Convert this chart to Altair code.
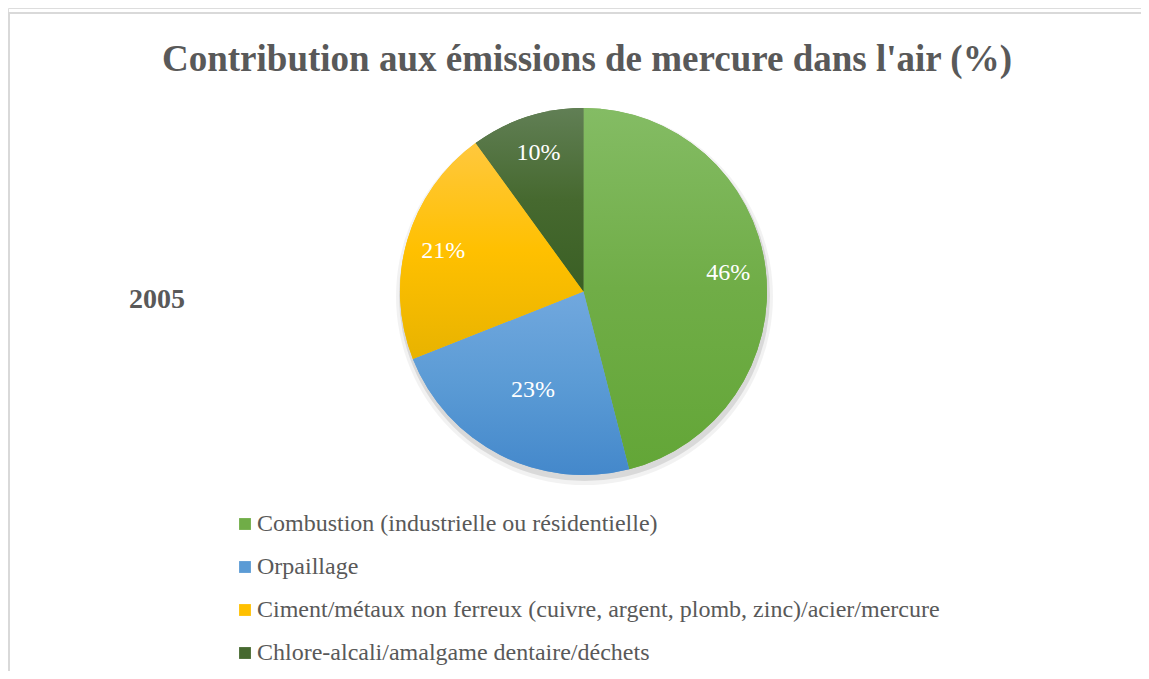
import altair as alt
import pandas as pd

categories = [
    "Combustion (industrielle ou résidentielle)",
    "Orpaillage",
    "Ciment/métaux non ferreux (cuivre, argent, plomb, zinc)/acier/mercure",
    "Chlore-alcali/amalgame dentaire/déchets",
]
values = [46, 23, 21, 10]
order = [1, 2, 3, 4]
year_label = "2005"
title_text = "Contribution aux émissions de mercure dans l'air (%)"

mid_colors = ["#70AD47", "#5B9BD5", "#FFC000", "#46692F"]
top_colors = ["#84BC64", "#71A8DE", "#FFC83E", "#617F55"]
bottom_colors = ["#63A637", "#4488CB", "#E8B300", "#3A5F24"]

df = pd.DataFrame({"category": categories, "value": values, "order": order})

W, H = 1133, 663
CX, CY, R = 575.5, 283.5, 183.5
SERIF = "'Liberation Serif', 'Times New Roman', Times, 'DejaVu Serif', serif"
GRAY = "#595959"

theta_scale = alt.Scale(domain=[0, 100])


def cum_base():
    return (
        alt.Chart(df)
        .transform_window(cum="sum(value)", sort=[alt.SortField("order")], frame=[None, 0])
        .transform_calculate(start="datum.cum - datum.value", mid="datum.cum - datum.value/2",
                             label="datum.value + '%'")
    )


# shadow
shadow = (
    alt.Chart(df)
    .transform_aggregate(total="sum(value)")
    .transform_calculate(zero="0")
    .mark_arc(radius=R + 2, color="#000000", opacity=0.10)
    .encode(
        theta=alt.Theta("zero:Q", scale=theta_scale),
        theta2="total:Q",
        x=alt.value(CX + 1),
        y=alt.value(CY + 4),
    )
)
shadow2 = (
    alt.Chart(df)
    .transform_aggregate(total="sum(value)")
    .transform_calculate(zero="0")
    .mark_arc(radius=R + 5, color="#000000", opacity=0.05)
    .encode(
        theta=alt.Theta("zero:Q", scale=theta_scale),
        theta2="total:Q",
        x=alt.value(CX + 1),
        y=alt.value(CY + 5),
    )
)

# base pie carrying legend
base = cum_base().mark_arc(radius=R).encode(
    theta=alt.Theta("start:Q", scale=theta_scale),
    theta2="cum:Q",
    x=alt.value(CX),
    y=alt.value(CY),
    color=alt.Color(
        "category:N",
        scale=alt.Scale(domain=categories, range=mid_colors),
        legend=alt.Legend(
            orient="none",
            legendX=225,
            legendY=504,
            direction="vertical",
            title=None,
            symbolType="square",
            symbolSize=140,
            symbolStrokeWidth=0,
            labelFont=SERIF,
            labelFontSize=24,
            labelColor=GRAY,
            labelLimit=1000,
            labelOffset=0,
            rowPadding=19,
            padding=0,
        ),
    ),
)

slices = []
for i, c in enumerate(categories):
    grad = alt.LinearGradient(
        gradient="linear",
        stops=[
            alt.GradientStop(color=top_colors[i], offset=0),
            alt.GradientStop(color=mid_colors[i], offset=0.5),
            alt.GradientStop(color=bottom_colors[i], offset=1),
        ],
        x1=0, x2=0, y1=0, y2=1,
    )
    slices.append(
        cum_base()
        .transform_filter(alt.datum.category == c)
        .mark_arc(radius=R, color=grad)
        .encode(
            theta=alt.Theta("start:Q", scale=theta_scale),
            theta2="cum:Q",
            x=alt.value(CX),
            y=alt.value(CY),
        )
    )

labels_outer = (
    cum_base()
    .transform_filter(alt.datum.category != "Orpaillage")
    .mark_text(radius=146, font=SERIF, fontSize=24, color="white", baseline="middle", align="center")
    .encode(theta=alt.Theta("mid:Q", scale=theta_scale), text="label:N",
            x=alt.value(CX), y=alt.value(CY))
)
labels_inner = (
    cum_base()
    .transform_filter(alt.datum.category == "Orpaillage")
    .mark_text(radius=111, font=SERIF, fontSize=24, color="white", baseline="middle", align="center")
    .encode(theta=alt.Theta("mid:Q", scale=theta_scale), text="label:N",
            x=alt.value(CX), y=alt.value(CY))
)

one = pd.DataFrame({"title": [title_text], "year": [year_label]})

title = alt.Chart(one).mark_text(
    font=SERIF, fontSize=37, fontWeight="bold", color=GRAY, align="center", baseline="alphabetic"
).encode(text="title:N", x=alt.value(579), y=alt.value(63))

year = alt.Chart(one).mark_text(
    font=SERIF, fontSize=28, fontWeight="bold", color=GRAY, align="center", baseline="alphabetic"
).encode(text="year:N", x=alt.value(149), y=alt.value(300))

frame_top = alt.Chart(one).mark_rule(color="#D9D9D9", strokeWidth=2).encode(
    x=alt.value(0), x2=alt.value(W), y=alt.value(5)
)
frame_left = alt.Chart(one).mark_rule(color="#D9D9D9", strokeWidth=2).encode(
    x=alt.value(1), y=alt.value(4), y2=alt.value(H)
)

chart = (
    alt.layer(frame_top, frame_left, shadow2, shadow, base, *slices, labels_outer, labels_inner, title, year)
    .properties(width=W, height=H, padding=0, autosize=alt.AutoSizeParams(type="none"))
    .configure_view(stroke=None)
    .configure(background="white")
)

chart.save("out.html", embed_options={"renderer": "svg", "actions": False})
